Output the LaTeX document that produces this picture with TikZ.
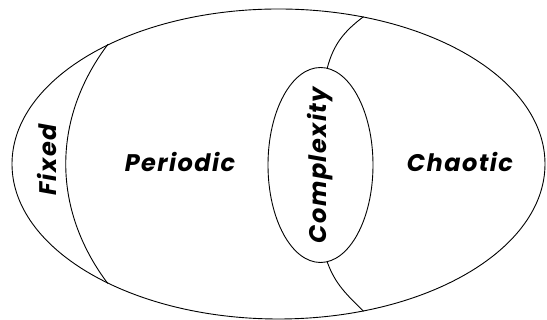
\documentclass[tikz,border=0pt]{standalone}
\usepackage{fontspec}
\newfontfamily\labelfont{Poppins}[UprightFont=* Bold Italic, LetterSpace=6]
\usetikzlibrary{shapes.geometric}
\begin{document}
\begin{tikzpicture}[x=1pt,y=1pt,
  region/.style={draw, ellipse, line width=0.9pt, inner sep=0pt},
  divider/.style={line width=0.9pt},
  lbl/.style={font=\labelfont\fontsize{24}{24}\selectfont, inner sep=0pt}]
\useasboundingbox (0,0) rectangle (547,320);
\node[region, minimum width=533pt, minimum height=310pt] (outer) at (278.5,156) {};
\node[region, minimum width=105pt, minimum height=195pt] (inner) at (320.5,155) {};
\draw[divider] (outer.145) to[out=233, in=127] (outer.215);
\draw[divider] (outer.60) to[out=217, in=75] (inner.86);
\draw[divider] (inner.274) to[out=-70, in=135] (outer.300);
\node[lbl, rotate=90] (fixed) at (47,160) {Fixed};
\node[lbl] (periodic) at (180,158) {Periodic};
\node[lbl] (chaotic) at (460,158) {Chaotic};
\node[lbl, rotate=90] (complexity) at (320,155) {Complexity};
\end{tikzpicture}
\end{document}
